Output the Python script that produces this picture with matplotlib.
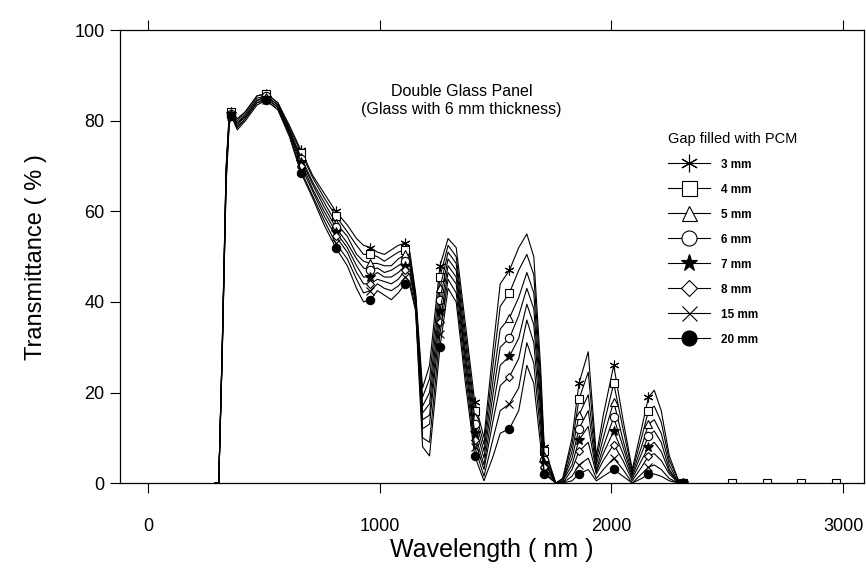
import numpy as np
import matplotlib
matplotlib.use('Agg')
import matplotlib.pyplot as plt

plt.rcParams['font.family'] = ['Liberation Sans', 'DejaVu Sans']

# wavelength grid (nm)
wl = [290, 305, 320, 337, 350, 360, 385, 420, 470, 510, 560, 610, 660, 710, 760, 810, 860, 900, 930, 960,
      990, 1020, 1050, 1080, 1110, 1130, 1155, 1185, 1215, 1260, 1295, 1330, 1370, 1410, 1450, 1490, 1520, 1560, 1600, 1635,
      1665, 1695, 1710, 1760, 1790, 1830, 1860, 1900, 1935, 1965, 2010, 2050, 2090, 2130, 2160, 2185, 2215, 2250, 2290, 2310]

# transmittance (%) for each PCM gap
t3 = [0, 0, 30, 70, 81, 82, 80.5, 82, 85.5, 86, 84, 79, 73.5, 68, 64, 60, 57, 54, 52.5, 52,
      51, 50.5, 51.5, 52.5, 53, 51, 42, 21, 26, 48, 54, 52, 35, 18, 10, 30, 44, 47, 52, 55,
      50, 25, 8, 0, 1, 10, 22, 29, 6, 15, 26, 14, 3, 12, 19, 20.5, 16, 6, 0.5, 0]
t4 = [0, 0, 30, 69.5, 81, 82, 80, 82, 85.5, 86, 84, 78.5, 73, 67.5, 63, 59, 55.5, 52.5, 50.5, 50.5,
      50, 49, 50, 51, 51.5, 50, 41.5, 19, 23, 45.5, 52.5, 50, 33, 16, 8.5, 26.5, 39, 42, 47, 50.5,
      46, 22.5, 7, 0, 1, 8.5, 18.5, 24.5, 5, 12.5, 22, 12, 2.5, 10, 16, 17, 13.5, 5, 0.5, 0]
t5 = [0, 0, 29.5, 69, 80.5, 81.5, 79.5, 81.5, 85, 85.5, 83.5, 78, 72, 66.5, 62, 57.5, 54.5, 50.5, 49, 48.5,
      48.5, 48, 48, 49.5, 50.5, 49, 41, 17, 20, 43, 51, 48.5, 31, 14.5, 7, 23, 34, 36.5, 41, 46.5,
      42, 20, 6, 0, 0.5, 7, 15, 19.5, 4, 10, 18, 9.5, 2, 8, 13, 14, 11, 4, 0, 0]
t6 = [0, 0, 29, 68.5, 80, 81.5, 79.5, 81, 84.5, 85.5, 83.5, 78, 71.5, 66, 61, 56.5, 53, 49.5, 47.5, 47,
      47.5, 46.5, 47, 48, 49, 48, 40.5, 15.5, 17.5, 40.5, 49.5, 47, 29, 13, 5.5, 20, 30, 32, 37, 43,
      38.5, 17.5, 5, 0, 0.5, 5.5, 12, 16, 3, 8, 14.5, 8, 1.5, 6.5, 10.5, 11.5, 9, 3, 0, 0]
t7 = [0, 0, 29, 68, 80, 81.5, 79, 81, 84.5, 85, 83, 77.5, 71, 65, 60, 55.5, 52, 48, 45.5, 45.5,
      46.5, 45.5, 45.5, 46.5, 48, 47, 40, 14, 15, 38, 48, 45.5, 27.5, 11, 4, 17, 26, 28, 32, 39.5,
      35, 15.5, 4.5, 0, 0.5, 4, 9.5, 12.5, 2.5, 6.5, 11.5, 6.5, 1, 5, 8, 9, 7, 2.5, 0, 0]
t8 = [0, 0, 28.5, 67.5, 80, 81, 78.5, 80.5, 84, 85, 83, 77.5, 70, 64.5, 59, 54.5, 51, 46.5, 44, 44,
      45, 44.5, 44, 45, 47, 46, 39.5, 12, 13, 35.5, 46.5, 44, 26, 9.5, 3, 14, 21.5, 23.5, 27.5, 36,
      31, 13, 3.5, 0, 0, 3, 7, 9, 2, 5, 8.5, 5, 0.5, 3.5, 6, 6.5, 5, 2, 0, 0]
t15 = [0, 0, 28, 67, 79.5, 81, 78.5, 80.5, 84, 84.5, 82.5, 77, 69, 63.5, 58, 53, 49.5, 45, 42, 42.5,
       44, 43, 42.5, 43.5, 45.5, 44.5, 38.5, 10, 9, 33, 45, 42, 24, 8, 1.5, 10, 16, 17.5, 21, 31,
       26.5, 10.5, 2.5, 0, 0, 1.5, 4, 5.5, 1, 3, 5.5, 3, 0, 2, 3.5, 4, 3, 1, 0, 0]
t20 = [0, 0, 28, 66, 79, 81, 78, 80, 83.5, 84.5, 82.5, 76.5, 68.5, 63, 57, 52, 48, 43, 40, 40.5,
       42.5, 41.5, 40.5, 42, 44, 43.5, 38, 8, 6, 30, 43, 40, 22, 6, 0.5, 6, 11, 12, 16, 26,
       22, 8, 2, 0, 0, 0.5, 2, 3, 0.5, 1.5, 3, 1.5, 0, 1, 2, 2, 1.5, 0.5, 0, 0]

# zero tail of the 4 mm curve
wl_tail = [2310, 2520, 2670, 2820, 2970]
t4_tail = [0, 0, 0, 0, 0]

labels = ['3 mm', '4 mm', '5 mm', '6 mm', '7 mm', '8 mm', '15 mm', '20 mm']
series = [t3, t4, t5, t6, t7, t8, t15, t20]
marker_wl = [360, 510, 660, 810, 960, 1110, 1260, 1410, 1560, 1710, 1860, 2010, 2160, 2310]

styles = [dict(marker=(6, 2, 0), mfc='k', ms=7),
          dict(marker='s', mfc='white', ms=6),
          dict(marker='^', mfc='white', ms=6),
          dict(marker='o', mfc='white', ms=6),
          dict(marker='*', mfc='k', ms=7),
          dict(marker='D', mfc='white', ms=4.5),
          dict(marker='x', mfc='k', ms=6),
          dict(marker='o', mfc='k', ms=6)]

fig = plt.figure(figsize=(8.66, 5.71), dpi=100)
ax = fig.add_axes([0.1386, 0.154, 0.859, 0.793])

idx = [wl.index(w) for w in marker_wl]
for y, lab, st in zip(series, labels, styles):
    ax.plot(wl, y, color='k', lw=0.8, markevery=idx, mec='k', mew=0.8, label=lab, **st)
ax.plot(wl_tail, t4_tail, color='k', lw=0.8, marker='s', mfc='white', mec='k', ms=6, mew=0.8,
        markevery=[1, 2, 3, 4])

ax.set_xlim(-121, 3090)
ax.set_ylim(0, 100)
ax.set_xticks([0, 1000, 2000, 3000])
ax.set_yticks([0, 20, 40, 60, 80, 100])
ax.tick_params(axis='both', labelsize=13, direction='out', length=7, top=True)
ax.tick_params(axis='x', pad=18)
ax.tick_params(axis='y', pad=4)
ax.set_xlabel('Wavelength ( nm )', fontsize=18, labelpad=2)
ax.set_ylabel('Transmittance ( % )', fontsize=17, labelpad=20)
for s in ax.spines.values():
    s.set_linewidth(0.9)

ax.text(1352, 84.5, 'Double Glass Panel\n(Glass with 6 mm thickness)', ha='center', va='center',
        fontsize=11.5, linespacing=1.2)

leg = ax.legend(loc='upper left', bbox_to_anchor=(0.759, 1 - 121 / 571), bbox_transform=fig.transFigure,
                frameon=False, title='Gap filled with PCM', title_fontsize=10.5,
                prop={'size': 8.5, 'weight': 'bold'}, handlelength=3.6, markerscale=1.8,
                labelspacing=1.1, handletextpad=0.9)
leg._legend_box.align = 'left'

fig.savefig('out.png', dpi=100)
